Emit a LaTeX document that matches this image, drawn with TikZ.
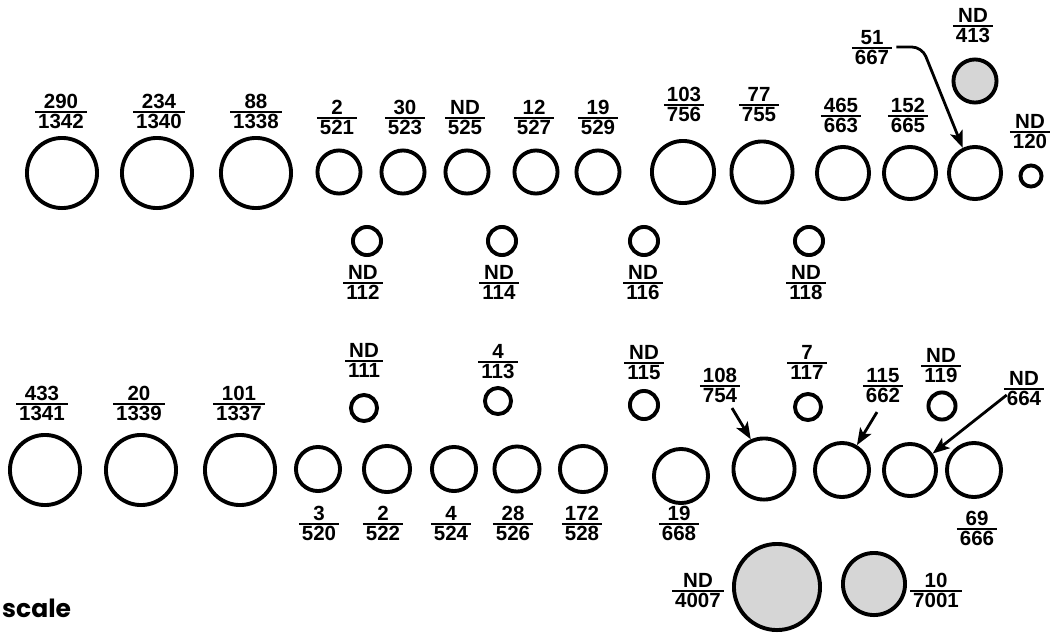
\documentclass[tikz,border=0pt]{standalone}
\usepackage{fontspec}
\setmainfont{Liberation Sans}
\newfontfamily\scalefnt{Poppins}
\usetikzlibrary{arrows.meta,calc}
\newcommand\labfont{\fontsize{20.5}{22}\selectfont\bfseries}
\newcommand\frc[2]{{\setlength\arrayrulewidth{2pt}\renewcommand\arraystretch{0}%
\begin{tabular}{@{\hspace{3pt}}c@{\hspace{3pt}}}\rule{0pt}{15pt}#1\rule[-2.5pt]{0pt}{2.5pt}\\\hline\rule{0pt}{16pt}#2\end{tabular}}}
\tikzset{
  circ/.style={circle, draw, line width=3.9pt, inner sep=0pt, minimum size={2*#1pt-3.9pt}},
  shaded/.style={fill=black!16},
  lab/.style={inner sep=0pt, font=\labfont},
  arr/.style={line width=2.8pt, -{Stealth[length=17pt,width=13pt,inset=4pt]}},
}
\begin{document}
\begin{tikzpicture}[x=1pt,y=-1pt]
\useasboundingbox (0,0) rectangle (1053,633);
% ---- top row circles
\node[circ=37] (c1342) at (62,173) {};
\node[circ=37] (c1340) at (157,173) {};
\node[circ=37] (c1338) at (256,173) {};
\node[circ=23.5] (c521) at (339,172) {};
\node[circ=23.5] (c523) at (403,172) {};
\node[circ=23.5] (c525) at (467,172) {};
\node[circ=23.5] (c527) at (536,172) {};
\node[circ=23.5] (c529) at (598,172) {};
\node[circ=33] (c756) at (683,172) {};
\node[circ=32.5] (c755) at (762,172) {};
\node[circ=28] (c663) at (843,173) {};
\node[circ=28] (c665) at (910,173) {};
\node[circ=28] (c667) at (975,173) {};
\node[circ=12.5] (c120) at (1031,176) {};
\node[circ=23.5,shaded] (c413) at (975,81) {};
% ---- top row labels
\node[lab] (l1342) at (61,111) {\frc{290}{1342}};
\node[lab] (l1340) at (159,111) {\frc{234}{1340}};
\node[lab] (l1338) at (256,111) {\frc{88}{1338}};
\node[lab] (l521) at (337,117) {\frc{2}{521}};
\node[lab] (l523) at (405,117) {\frc{30}{523}};
\node[lab] (l525) at (465,117) {\frc{ND}{525}};
\node[lab] (l527) at (534,117) {\frc{12}{527}};
\node[lab] (l529) at (598,117) {\frc{19}{529}};
\node[lab] (l756) at (684,104) {\frc{103}{756}};
\node[lab] (l755) at (759,104) {\frc{77}{755}};
\node[lab] (l663) at (841,115) {\frc{465}{663}};
\node[lab] (l665) at (908,115) {\frc{152}{665}};
\node[lab] (l667) at (872,47) {\frc{51}{667}};
\node[lab] (l413) at (973,25) {\frc{ND}{413}};
\node[lab] (l120) at (1030,131) {\frc{ND}{120}};
% ---- second row
\node[circ=16] (c112) at (367,241) {};
\node[circ=16] (c114) at (502,241) {};
\node[circ=16] (c116) at (644,241) {};
\node[circ=16] (c118) at (809,241) {};
\node[lab] (l112) at (363,282) {\frc{ND}{112}};
\node[lab] (l114) at (499,282) {\frc{ND}{114}};
\node[lab] (l116) at (643,282) {\frc{ND}{116}};
\node[lab] (l118) at (806,282) {\frc{ND}{118}};
% ---- bottom row
\node[circ=37] (c1341) at (45,470) {};
\node[circ=37] (c1339) at (141,470) {};
\node[circ=37] (c1337) at (240,470) {};
\node[lab] (l1341) at (42,403) {\frc{433}{1341}};
\node[lab] (l1339) at (139,403) {\frc{20}{1339}};
\node[lab] (l1337) at (239,403) {\frc{101}{1337}};
\node[circ=15] (c111) at (364,408) {};
\node[circ=15] (c113) at (498,401) {};
\node[circ=16] (c115) at (644,405) {};
\node[circ=15] (c117) at (808,407) {};
\node[circ=15.5] (c119) at (942,406) {};
\node[lab] (l111) at (364,360) {\frc{ND}{111}};
\node[lab] (l113) at (498,361) {\frc{4}{113}};
\node[lab] (l115) at (644,362) {\frc{ND}{115}};
\node[lab] (l117) at (807,362) {\frc{7}{117}};
\node[lab] (l119) at (941,365) {\frc{ND}{119}};
\node[circ=24] (c520) at (318,469) {};
\node[circ=25] (c522) at (387,469) {};
\node[circ=24] (c524) at (454,469) {};
\node[circ=24.5] (c526) at (517,469) {};
\node[circ=25] (c528) at (583,469) {};
\node[lab] (l520) at (319,523) {\frc{3}{520}};
\node[lab] (l522) at (383,523) {\frc{2}{522}};
\node[lab] (l524) at (451,523) {\frc{4}{524}};
\node[lab] (l526) at (513,523) {\frc{28}{526}};
\node[lab] (l528) at (582,523) {\frc{172}{528}};
\node[circ=29] (c668) at (681,476) {};
\node[circ=32.5] (c754) at (764,469) {};
\node[circ=29] (c662) at (842,470) {};
\node[circ=28] (c664) at (910,470) {};
\node[circ=29] (c666) at (974,470) {};
\node[lab] (l668) at (679,523) {\frc{19}{668}};
\node[lab] (l754) at (720,385) {\frc{108}{754}};
\node[lab] (l662) at (883,385) {\frc{115}{662}};
\node[lab] (l664) at (1024,388) {\frc{ND}{664}};
\node[lab] (l666) at (977,528) {\frc{69}{666}};
\node[circ=45,shaded] (c4007) at (777,587) {};
\node[circ=33,shaded] (c7001) at (874,584) {};
\node[lab] (l4007) at (698,590) {\frc{ND}{4007}};
\node[lab] (l7001) at (936,590) {\frc{10}{7001}};
% ---- scale
\node[anchor=base west, inner sep=0pt, font=\scalefnt\bfseries\fontsize{25}{28}\selectfont] (scale) at (2,617) {scale};
% ---- arrows
\draw[arr, rounded corners=10pt, shorten <=4pt] (l667.east) -- (922,47) -- (c667.116);
\draw[arr] ($(l754.south)+(12,5)$) -- (c754.114);
\draw[arr] ($(l662.south)+(-6,9)$) -- (c662.59);
\draw[arr] ($(l664.west)+(3,7)$) -- (c664.36);
\end{tikzpicture}
\end{document}
